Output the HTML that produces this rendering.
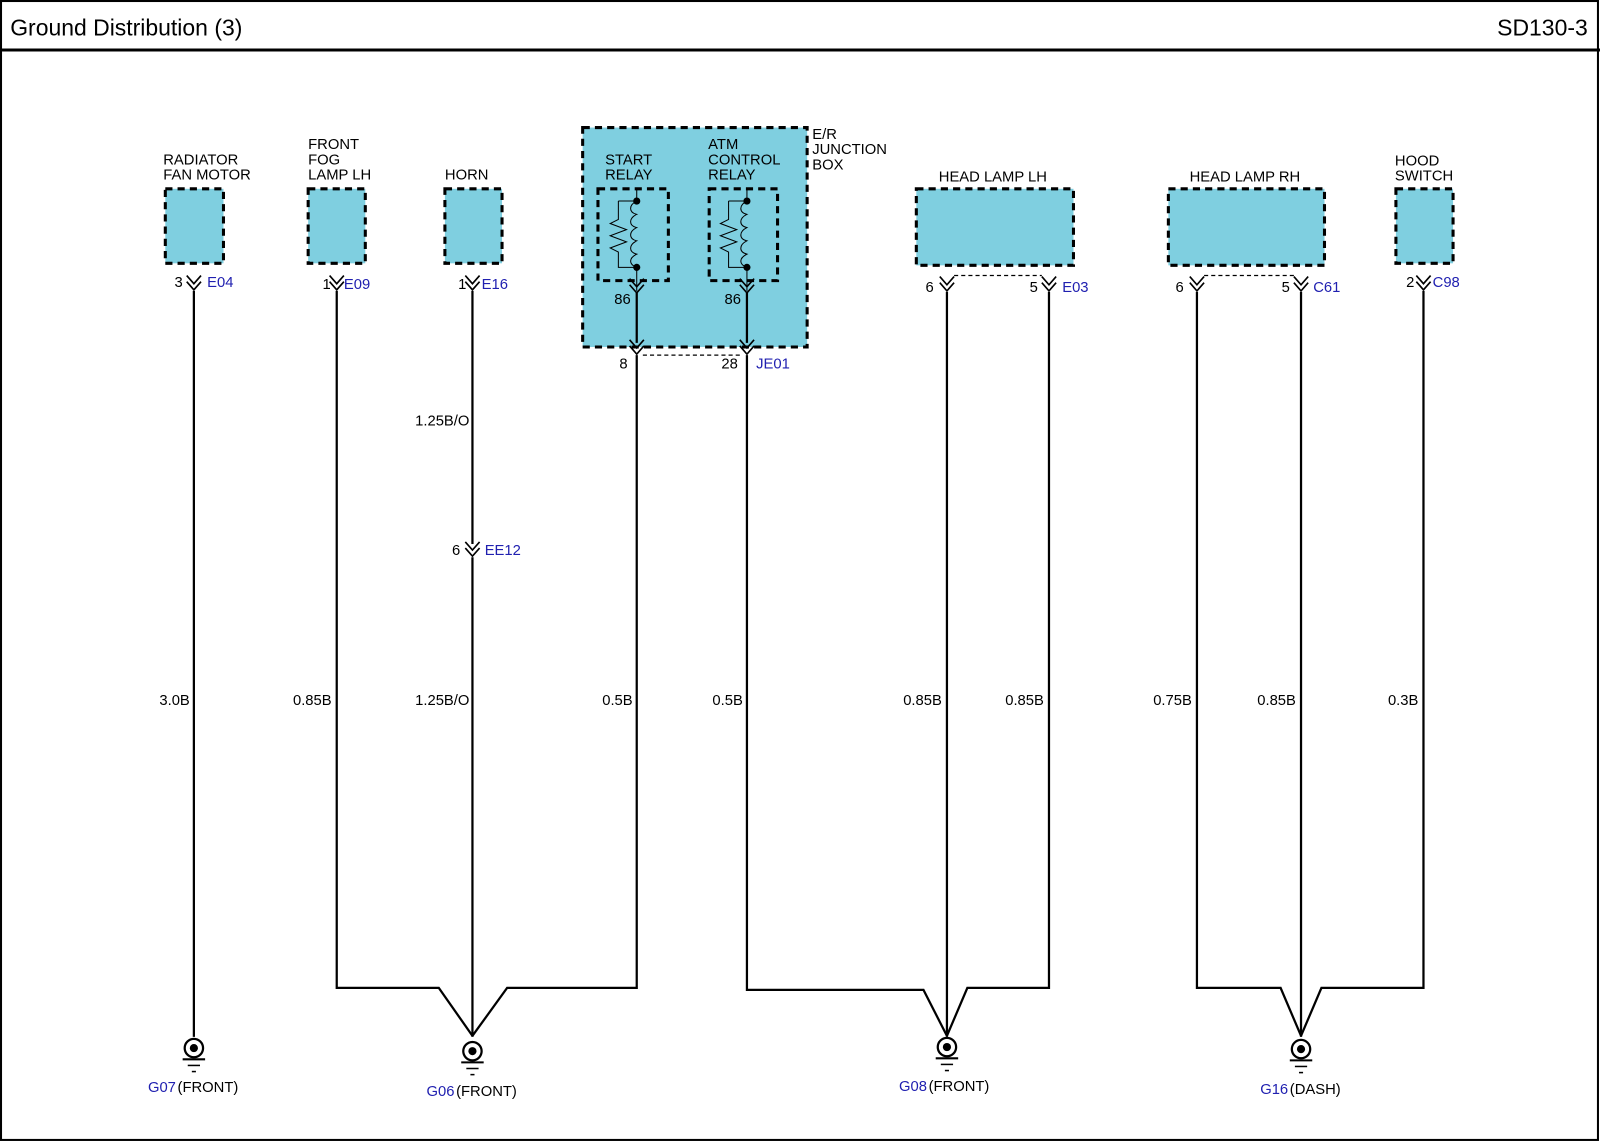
<!DOCTYPE html>
<html><head><style>html,body{margin:0;padding:0;background:#fff}svg{display:block}</style></head>
<body>
<svg width="1600" height="1143" viewBox="0 0 1568 1120" preserveAspectRatio="none" xmlns="http://www.w3.org/2000/svg" font-family="Liberation Sans, Arial, sans-serif">
<defs>
<g id="conn"><path d="M-7,-8 L0,0 L7,-8 M-7,-2 L0,6 L7,-2" fill="none" stroke="#000" stroke-width="1.6"/></g>
<g id="gnd"><circle cx="0" cy="0" r="9" fill="none" stroke="#000" stroke-width="2.2"/><circle cx="0" cy="0" r="4" fill="#000"/><line x1="-11" y1="11" x2="11" y2="11" stroke="#000" stroke-width="2"/><line x1="-6" y1="17" x2="6" y2="17" stroke="#000" stroke-width="1.5"/><line x1="-2" y1="23" x2="2" y2="23" stroke="#000" stroke-width="1.5"/></g>
<g id="relay"><path d="M0,0 V12 M-18,12 H0 M-18,12 V30 L-26,34 L-10,40 L-26,46 L-10,52 L-26,58 L-18,62 V77 H0 M0,77 V100" fill="none" stroke="#000" stroke-width="1"/><path d="M0,12 c-8,4 -8,11 0,13 c-8,4 -8,11 0,13 c-8,4 -8,11 0,13 c-8,4 -8,11 0,13 c-8,4 -8,10 0,13" fill="none" stroke="#000" stroke-width="1"/><circle cx="0" cy="12" r="3.5" fill="#000"/><circle cx="0" cy="77" r="3.5" fill="#000"/></g>
</defs>
<rect x="1" y="1" width="1565" height="1116" fill="none" stroke="#000" stroke-width="2"/>
<text x="10" y="35" font-size="22.5">Ground Distribution (3)</text>
<text x="1556" y="35" font-size="22.5" text-anchor="end">SD130-3</text>
<line x1="0" y1="49" x2="1568" y2="49" stroke="#000" stroke-width="3"/>

<g fill="#7fcfe0" stroke="#000" stroke-width="3" stroke-dasharray="7,5">
<rect x="162" y="185" width="57" height="73"/>
<rect x="302" y="185" width="56" height="73"/>
<rect x="436" y="185" width="56" height="73"/>
<rect x="571" y="125" width="220" height="215"/>
<rect x="898" y="185" width="154" height="75"/>
<rect x="1145" y="185" width="153" height="75"/>
<rect x="1368" y="185" width="56" height="73"/>
</g>
<g fill="none" stroke="#000" stroke-width="3" stroke-dasharray="7,5">
<rect x="586" y="185" width="69" height="90"/>
<rect x="695" y="185" width="67" height="90"/>
</g>
<use href="#relay" x="624" y="185"/>
<use href="#relay" x="732" y="185"/>

<g font-size="14.5">
<text x="160" y="161">RADIATOR</text><text x="160" y="176">FAN MOTOR</text>
<text x="302" y="146">FRONT</text><text x="302" y="161">FOG</text><text x="302" y="176">LAMP LH</text>
<text x="436" y="176">HORN</text>
<text x="593" y="161">START</text><text x="593" y="176">RELAY</text>
<text x="694" y="146">ATM</text><text x="694" y="161">CONTROL</text><text x="694" y="176">RELAY</text>
<text x="796" y="136">E/R</text><text x="796" y="151">JUNCTION</text><text x="796" y="166">BOX</text>
<text x="973" y="178" text-anchor="middle">HEAD LAMP LH</text>
<text x="1220" y="178" text-anchor="middle">HEAD LAMP RH</text>
<text x="1367" y="162">HOOD</text><text x="1367" y="177">SWITCH</text>
<text x="602" y="298">86</text><text x="710" y="298">86</text>
<text x="171" y="281">3</text><text x="316" y="283">1</text><text x="449" y="283">1</text>
<text x="607" y="361">8</text><text x="707" y="361">28</text>
<text x="907" y="286">6</text><text x="1009" y="286">5</text>
<text x="1152" y="286">6</text><text x="1256" y="286">5</text>
<text x="1378" y="281">2</text>
<text x="443" y="544">6</text>
<text x="460" y="417" text-anchor="end">1.25B/O</text>
<g text-anchor="end">
<text x="186" y="691">3.0B</text><text x="325" y="691">0.85B</text><text x="460" y="691">1.25B/O</text>
<text x="620" y="691">0.5B</text><text x="728" y="691">0.5B</text>
<text x="923" y="691">0.85B</text><text x="1023" y="691">0.85B</text>
<text x="1168" y="691">0.75B</text><text x="1270" y="691">0.85B</text><text x="1390" y="691">0.3B</text>
</g>
<g fill="#2020b0">
<text x="203" y="281">E04</text><text x="337" y="283">E09</text><text x="472" y="283">E16</text>
<text x="741" y="361">JE01</text><text x="1041" y="286">E03</text><text x="1287" y="286">C61</text>
<text x="1404" y="281">C98</text><text x="475" y="544">EE12</text>
<text x="145" y="1070">G07</text><text x="418" y="1074">G06</text><text x="881" y="1069">G08</text><text x="1235" y="1072">G16</text>
</g>
<text x="174" y="1070">(FRONT)</text><text x="447" y="1074">(FRONT)</text><text x="910" y="1069">(FRONT)</text><text x="1264" y="1072">(DASH)</text>
</g>

<g stroke="#000" stroke-width="1.2" stroke-dasharray="4,3" fill="none">
<line x1="630" y1="348" x2="726" y2="348"/>
<line x1="935" y1="270" x2="1021" y2="270"/>
<line x1="1180" y1="270" x2="1268" y2="270"/>
</g>

<use href="#conn" x="190" y="278"/><use href="#conn" x="330" y="278"/><use href="#conn" x="463" y="278"/>
<use href="#conn" x="624" y="281"/><use href="#conn" x="732" y="281"/>
<use href="#conn" x="624" y="341"/><use href="#conn" x="732" y="341"/>
<use href="#conn" x="928" y="279"/><use href="#conn" x="1028" y="279"/>
<use href="#conn" x="1173" y="279"/><use href="#conn" x="1275" y="279"/>
<use href="#conn" x="1395" y="278"/><use href="#conn" x="463" y="539"/>

<g fill="none" stroke="#000" stroke-width="2.2">
<path d="M190,285 V1016"/>
<path d="M330,285 V968 H430 L463,1015"/>
<path d="M463,285 V533 M463,546 V1016"/>
<path d="M624,287 V336 M732,287 V336"/>
<path d="M624,348 V968 H497 L463,1015"/>
<path d="M732,348 V970 H905 L928,1015"/>
<path d="M928,286 V1016"/>
<path d="M1028,286 V968 H948 L928,1015"/>
<path d="M1173,286 V968 H1255 L1275,1015"/>
<path d="M1275,286 V1016"/>
<path d="M1395,285 V968 H1295 L1275,1015"/>
</g>
<use href="#gnd" x="190" y="1027"/>
<use href="#gnd" x="463" y="1030"/>
<use href="#gnd" x="928" y="1026"/>
<use href="#gnd" x="1275" y="1028"/>
</svg>
</body></html>
